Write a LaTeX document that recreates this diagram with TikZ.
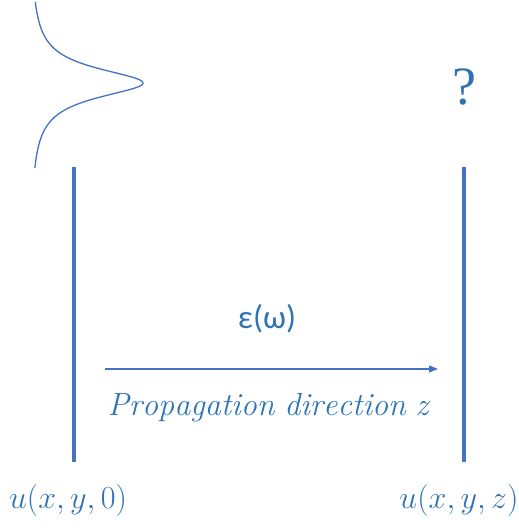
\documentclass[tikz,border=0pt]{standalone}
\usepackage{fontspec}
\newfontfamily\calib{Carlito}
\newfontfamily\serifq{Liberation Serif}
\usetikzlibrary{arrows.meta}
\definecolor{barblue}{HTML}{4472C4}
\definecolor{txtblue}{HTML}{2E74B5}
\newcommand{\bigmath}[1]{\scalebox{1.29}{$#1$}}
\begin{document}
\begin{tikzpicture}[x=1pt,y=-1pt,
  bar/.style={draw=barblue,line width=4pt},
  lbl/.style={text=txtblue,inner sep=0pt,font=\fontsize{24.88}{30}\selectfont},
  calibl/.style={text=txtblue,inner sep=0pt,font=\calib\fontsize{33}{38}\selectfont}]
\useasboundingbox (0,0) rectangle (519,531);
% bars
\coordinate (l1) at (74,167); \coordinate (l2) at (74,462);
\coordinate (r1) at (464,167); \coordinate (r2) at (464,462);
\draw[bar] (l1) -- (l2);
\draw[bar] (r1) -- (r2);
% gaussian
\draw[barblue,line width=1.3pt,domain=2:168,samples=150,smooth,variable=\t]
  plot ({30+113/(1+((\t-83)/18)^2)},{\t});
% question mark
\node[text=txtblue,inner sep=0pt,font=\serifq\fontsize{54}{58}\selectfont] (q) at (464,87) {?};
% arrow
\coordinate (a1) at (105,369); \coordinate (a2) at (438,369);
\draw[barblue,line width=1.3pt,-{Triangle[length=9pt,width=7pt]}] (a1) -- (a2);
\node[calibl] (eps) at (267,319) {ε(ω)};
\node[lbl] (prop) at (268,408) {\bigmath{\mathit{Propagation\ direction\ z}}};
\node[lbl] (u0) at (68,500) {\bigmath{u(x,y,0)}};
\node[lbl] (uz) at (459,500) {\bigmath{u(x,y,z)}};
\end{tikzpicture}
\end{document}
